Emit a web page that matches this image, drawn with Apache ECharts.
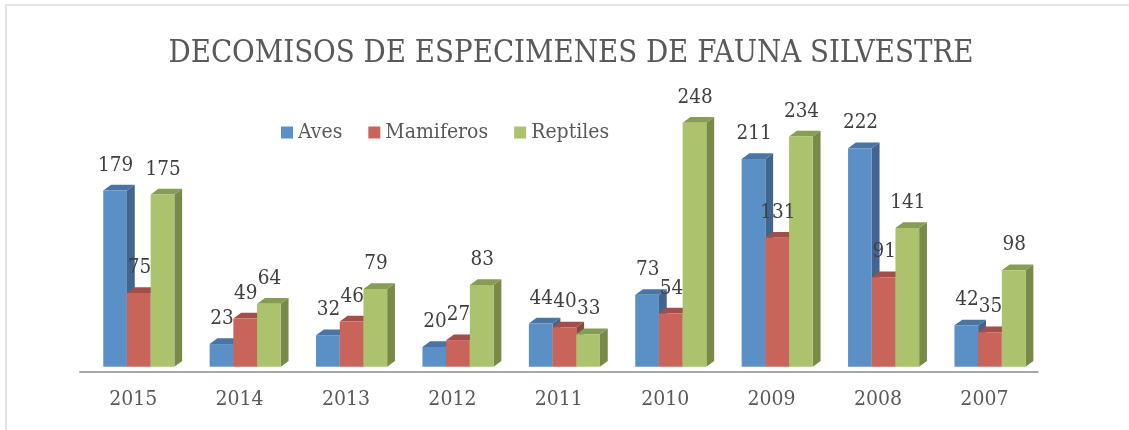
<!DOCTYPE html>
<html><head><meta charset="utf-8">
<script src="https://cdn.jsdelivr.net/npm/echarts@6/dist/echarts.min.js"></script>
<style>html,body{margin:0;padding:0;background:#fff}#c{width:1129px;height:430px}</style>
</head><body><div id="c"></div>
<script>
const categories = ['2015','2014','2013','2012','2011','2010','2009','2008','2007'];
const aves      = [179,23,32,20,44,73,211,222,42];
const mamiferos = [75,49,46,27,40,54,131,91,35];
const reptiles  = [175,64,79,83,33,248,234,141,98];
const titleText = 'DECOMISOS DE ESPECIMENES DE FAUNA SILVESTRE';
const FONT = '"DejaVu Serif Condensed", "DejaVu Serif", serif';
const styles = [
 {name:'Aves',front:'#5b90c6',side:'#42648e',top:'#4a74a3'},
 {name:'Mamiferos',front:'#c9645a',side:'#8f4640',top:'#a24f49'},
 {name:'Reptiles',front:'#abc36c',side:'#788a47',top:'#879c55'}
];
const BAR_W=23.7, DX=7.8, DY=5.7, OFFSET=5.6;
function render3d(si){
  return function(params,api){
    const idx=api.value(0), val=api.value(1);
    const base=api.coord([idx,0]), topP=api.coord([idx,val]);
    const x=base[0]+OFFSET+(si-1.5)*BAR_W, x2=x+BAR_W, b=base[1], t=topP[1];
    const st=styles[si];
    return {type:'group',children:[
      {type:'polygon',z2:si*3+1,shape:{points:[[x2,b],[x2+DX,b-DY],[x2+DX,t-DY],[x2,t]]},style:{fill:st.side}},
      {type:'polygon',z2:si*3+1,shape:{points:[[x,t],[x+DX,t-DY],[x2+DX,t-DY],[x2,t]]},style:{fill:st.top}},
      {type:'rect',z2:si*3+2,shape:{x:x,y:t,width:BAR_W,height:b-t},style:{fill:st.front}},
      {type:'text',z2:50,style:{text:String(val),x:x+BAR_W/2+0.6,y:t-25.2,align:'center',verticalAlign:'middle',font:'20.5px '+FONT,fill:'#404040'}}
    ]};
  };
}
const seriesData=[aves,mamiferos,reptiles];
const chart=echarts.init(document.getElementById('c'),null,{renderer:'canvas'});
chart.setOption({
  animation:false,backgroundColor:'#fff',
  title:{text:titleText,left:566,textAlign:'center',top:33.5,textStyle:{fontFamily:FONT,fontSize:30.8,fontWeight:'normal',color:'#595959'}},
  legend:{top:117,left:276,itemWidth:12,itemHeight:12,itemGap:26,
    textStyle:{fontFamily:FONT,fontSize:21,color:'#595959'},
    data:styles.map(s=>({name:s.name,icon:'rect',itemStyle:{color:s.front}}))},
  grid:{left:80,width:957.6,top:20,bottom:63.3},
  xAxis:{type:'category',data:categories,offset:5,axisTick:{show:false},
    axisLine:{onZero:false,lineStyle:{color:'#a6a6a6',width:2}},
    axisLabel:{fontFamily:FONT,fontSize:21,color:'#595959',margin:17.5}},
  yAxis:{type:'value',min:0,max:352.3,show:false},
  series:styles.map((s,i)=>({name:s.name,type:'custom',coordinateSystem:'cartesian2d',
    itemStyle:{color:s.front},
    encode:{x:0,y:1},
    data:seriesData[i].map((v,j)=>[j,v]),
    renderItem:render3d(i)})),
  graphic:[{type:'rect',z:-1,shape:{x:6,y:5,width:1200,height:600},style:{fill:'none',stroke:'#e4e4e4',lineWidth:2}}]
});
</script></body></html>
